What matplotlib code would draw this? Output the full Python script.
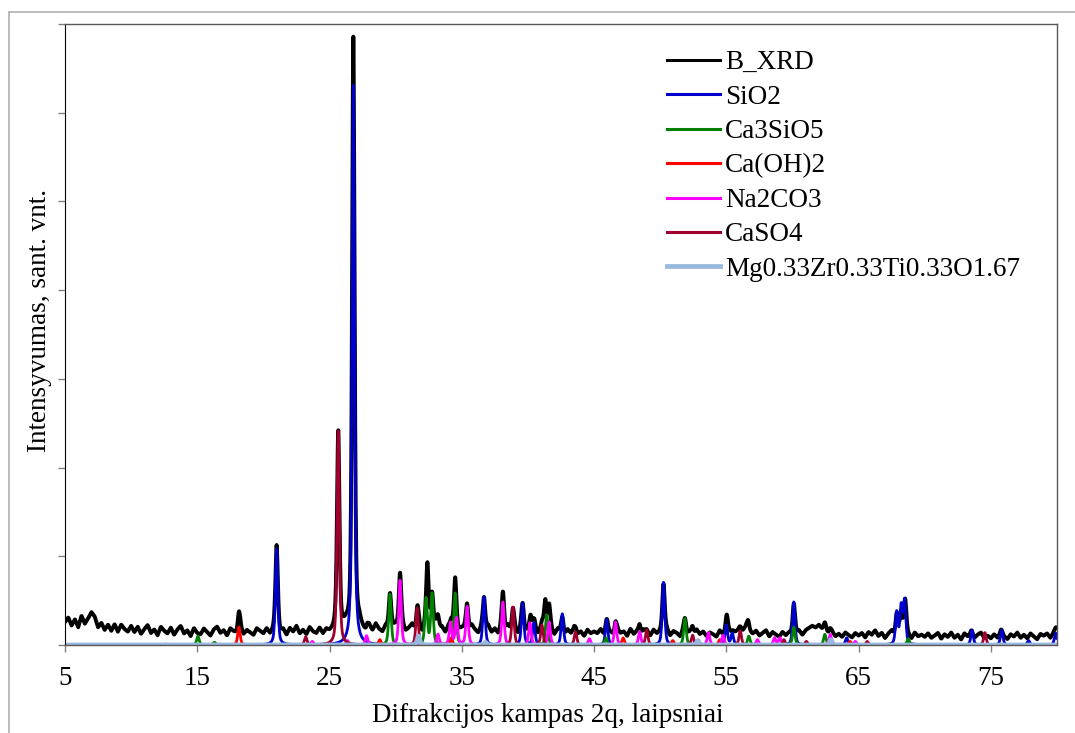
import numpy as np
import matplotlib
matplotlib.use("Agg")
import matplotlib.pyplot as plt
from matplotlib.lines import Line2D

plt.rcParams['font.family'] = ['Liberation Serif', 'DejaVu Serif']

# measured background of the sample pattern, every 0.25 deg from 5 to 80
bg_x = np.arange(5.0, 80.001, 0.25)
bg_y = [260,
        310, 220, 290, 200, 330, 240, 300, 370, 320, 200, 250, 170, 230, 160, 235, 150, 230, 180, 150, 215,
        145, 205, 125, 180, 225, 135, 175, 110, 205, 160, 130, 195, 115, 175, 215, 130, 165, 100, 190, 135,
        120, 185, 145, 105, 175, 205, 135, 165, 105, 185, 150, 125, 195, 115, 165, 140, 110, 185, 155, 125,
        180, 115, 155, 195, 125, 165, 105, 185, 145, 210, 125, 165, 115, 195, 145, 125, 185, 115, 165, 135,
        145, 180, 115, 165, 195, 135, 175, 125, 205, 155, 115, 195, 145, 225, 165, 135, 205, 155, 185, 215,
        160, 210, 140, 180, 225, 150, 190, 125, 210, 170, 140, 220, 160, 190, 130, 200, 160, 220, 150, 180,
        185, 145, 215, 165, 125, 195, 155, 205, 135, 175, 115, 185, 145, 205, 135, 165, 115, 185, 135, 155,
        140, 185, 115, 155, 195, 125, 165, 105, 175, 140, 100, 170, 130, 190, 120, 150, 100, 170, 130, 150,
        130, 175, 110, 160, 140, 100, 170, 130, 150, 100, 180, 120, 150, 90, 165, 130, 100, 165, 120, 140,
        120, 160, 95, 150, 130, 90, 160, 120, 140, 90, 170, 120, 150, 100, 140, 120, 90, 160, 110, 130,
        145, 105, 150, 180, 160, 205, 145, 125, 160, 105, 135, 165, 95, 145, 115, 90, 145, 105, 135, 95,
        125, 155, 110, 165, 190, 215, 195, 225, 175, 160, 115, 145, 95, 125, 90, 140, 110, 85, 135, 105,
        135, 85, 145, 115, 165, 100, 135, 75, 125, 155, 95, 135, 75, 125, 105, 65, 135, 95, 115, 90,
        130, 80, 105, 135, 70, 120, 90, 140, 80, 115, 60, 130, 95, 120, 75, 115, 140, 80, 105, 75,
        120, 80, 130, 95, 65, 120, 95, 140, 80, 115, 75, 130, 95, 65, 125, 105, 130, 80, 140, 170]

# sample reflections: position (2theta) and net height above background
xrd_pos = [18.15, 21.0, 25.66, 26.8, 27.85, 29.57, 30.33, 31.65, 32.4, 32.75,
           33.2, 34.2, 34.5, 35.4, 36.68, 38.11, 38.87, 39.6, 40.2, 40.45,
           41.06, 41.32, 41.6, 42.6, 43.6, 45.95, 46.62, 48.45, 48.98, 50.25,
           51.87, 52.45, 55.03, 55.5, 56.05, 56.65, 60.1, 62.45, 62.85, 67.88,
           68.22, 68.52, 73.55, 75.8, 79.9]
xrd_h = [210, 930, 2250, 6680, 60, 410, 630, 260, 720, 420,
         150, 100, 530, 300, 370, 430, 260, 300, 180, 100,
         80, 310, 300, 190, 40, 140, 130, 130, 40, 570,
         160, 110, 210, 50, 30, 110, 360, 90, 60, 230,
         280, 380, 50, 50, 40]

# reference phase patterns (position, intensity)
sio2_pos = [21.0, 26.8, 36.68, 39.6, 40.45, 42.6, 45.95, 50.25, 55.0, 55.45,
            60.1, 64.1, 67.88, 68.22, 68.48, 73.58, 75.82, 77.85, 79.9]
sio2_h = [1080, 6310, 540, 470, 250, 350, 290, 710, 225, 130,
          485, 80, 360, 420, 485, 170, 170, 50, 135]

c3s_pos = [15.05, 16.3, 29.57, 32.3, 32.75, 34.5, 41.42, 45.9, 51.87, 56.7,
           60.1, 62.45, 68.75]
c3s_h = [100, 30, 575, 520, 575, 585, 340, 80, 300, 100,
         200, 120, 70]

caoh_pos = [18.15, 28.8, 34.2, 47.2, 50.95, 54.5, 62.75, 64.35]
caoh_h = [203, 60, 80, 80, 50, 60, 40, 40]

na2co3_pos = [12.6, 23.7, 26.35, 27.8, 30.33, 33.2, 34.15, 34.6, 35.4, 38.11,
              40.15, 41.6, 44.65, 46.62, 48.45, 53.65, 54.75, 57.35, 58.65, 59.05,
              62.85, 64.75]
na2co3_h = [10, 40, 50, 105, 733, 120, 250, 300, 430, 485,
            250, 260, 70, 260, 150, 140, 110, 60, 80, 80,
            120, 40]

caso4_pos = [23.2, 25.66, 31.62, 38.87, 41.06, 43.6, 48.98, 52.45, 56.05, 59.35,
             61.05, 65.65, 74.55]
caso4_h = [90, 2413, 417, 430, 225, 150, 170, 110, 160, 60,
           40, 40, 140]

mzt_pos = [31.72, 36.8, 52.85, 62.9]
mzt_h = [100, 30, 50, 60]

series = ['B_XRD', 'SiO2', 'Ca3SiO5', 'Ca(OH)2', 'Na2CO3', 'CaSO4',
          'Mg0.33Zr0.33Ti0.33O1.67']
colors = ['black', '#0000CC', '#008000', '#FF0000', '#FF00FF', '#A0002E',
          '#99B8DD']

tt = np.arange(5.0, 80.0001, 0.02)


def profile(pos, h, fwhm=0.22, eta=0.5):
    # pseudo-Voigt line shape for every reflection
    y = np.zeros_like(tt)
    for p, a in zip(pos, h):
        d = (tt - p) / (fwhm / 2)
        y += a * (eta / (1 + d ** 2) + (1 - eta) * np.exp(-np.log(2) * d ** 2))
    return y


sample = np.interp(tt, bg_x, bg_y) + profile(xrd_pos, xrd_h)
phases = [(sio2_pos, sio2_h), (c3s_pos, c3s_h), (caoh_pos, caoh_h),
          (na2co3_pos, na2co3_h), (caso4_pos, caso4_h), (mzt_pos, mzt_h)]

fig = plt.figure(figsize=(10.75, 7.33), dpi=100)
ax = fig.add_axes([65 / 1075, 88 / 733, 992 / 1075, 621 / 733])

ax.plot(tt, sample, color=colors[0], lw=2.8, label=series[0])
for i, (p, h) in enumerate(phases):
    lw = 3.4 if i == 5 else 2.0
    ax.plot(tt, profile(p, h), color=colors[i + 1], lw=lw, label=series[i + 1])

ax.set_xlim(5, 80)
ax.set_ylim(0, 7000)
ax.set_xticks(np.arange(5, 80, 10))
ax.set_yticks(np.arange(0, 7001, 1000))
ax.set_yticklabels([])
ax.tick_params(axis='x', direction='out', length=5, width=1, color='#808080',
               labelsize=19.5, pad=10)
ax.tick_params(axis='y', direction='out', length=5, width=1, color='#808080')

ax.spines['left'].set_color('black')
for s in ['top', 'right', 'bottom']:
    ax.spines[s].set_color('#595959')
    ax.spines[s].set_linewidth(1)

ax.set_xlabel('Difrakcijos kampas 2q, laipsniai', fontsize=19.5)
ax.set_ylabel('Intensyvumas, sant. vnt.', fontsize=19.5)
ax.xaxis.set_label_coords(0.487, -0.093)
ax.yaxis.set_label_coords(-0.013, 0.523)

leg = ax.legend(loc='upper left', bbox_to_anchor=(0.607, 0.958), frameon=False,
                fontsize=19.5, handlelength=1.96, handletextpad=0.18,
                labelspacing=0.35, borderpad=0, borderaxespad=0)
for ln in leg.get_lines():
    ln.set_linewidth(2.2)
leg.get_lines()[-1].set_linewidth(3.4)

# outer chart frame
fig.add_artist(Line2D([9 / 1075, 1], [1 - 12 / 733, 1 - 12 / 733],
                      transform=fig.transFigure, color='#B0B0B0', lw=1.2))
fig.add_artist(Line2D([9 / 1075, 9 / 1075], [0, 1 - 12 / 733],
                      transform=fig.transFigure, color='#B0B0B0', lw=1.2))

fig.savefig('out.png', dpi=100)
